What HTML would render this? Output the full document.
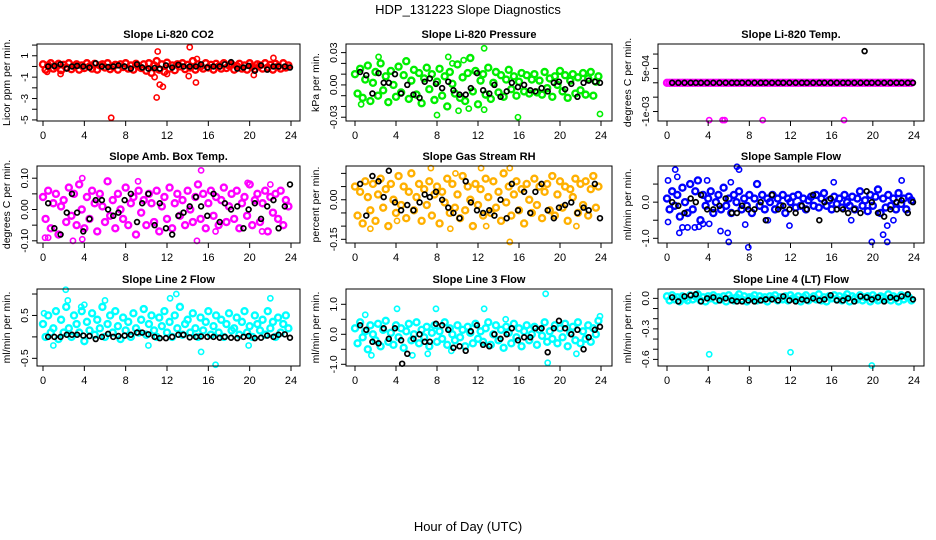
<!DOCTYPE html>
<html><head><meta charset="utf-8">
<style>
html,body{margin:0;padding:0;background:#fff;}
svg{display:block;font-family:"Liberation Sans",Arial,sans-serif;}
</style></head>
<body>
<svg id="chart" width="936" height="540" viewBox="0 0 936 540">
<text x="468" y="14" text-anchor="middle" font-size="13">HDP_131223  Slope Diagnostics</text>
<text x="468" y="531" text-anchor="middle" font-size="13">Hour of Day (UTC)</text>
</svg>
<script>
// ---------- shared time arrays ----------
const times = [0,0.25,0.5,0.75,1,1.25,1.5,1.75,2,2.25,2.5,2.75,3,3.25,3.5,3.75,4,4.25,4.5,4.75,5,5.25,5.5,5.75,6,6.25,6.5,6.75,7,7.25,7.5,7.75,8,8.25,8.5,8.75,9,9.25,9.5,9.75,10,10.25,10.5,10.75,11,11.25,11.5,11.75,12,12.25,12.5,12.75,13,13.25,13.5,13.75,14,14.25,14.5,14.75,15,15.25,15.5,15.75,16,16.25,16.5,16.75,17,17.25,17.5,17.75,18,18.25,18.5,18.75,19,19.25,19.5,19.75,20,20.25,20.5,20.75,21,21.25,21.5,21.75,22,22.25,22.5,22.75,23,23.25,23.5,23.75];
const blackTimes = [0.5,1.1,1.7,2.3,2.8,3.3,3.9,4.5,5.1,5.7,6.3,6.8,7.3,7.9,8.5,9.1,9.6,10.2,10.8,11.3,11.9,12.5,13.1,13.6,14.2,14.8,15.3,15.9,16.5,17.1,17.6,18.2,18.8,19.4,19.9,20.5,21.1,21.7,22.3,22.8,23.4,23.9];
const xTicks = [0,4,8,12,16,20,24];

// ---------- panel 1: CO2 ----------
const co2Vals = [0.2,-0.3,0.1,0.3,-0.2,0.0,0.25,-0.35,0.15,-0.1,0.3,-0.25,0.05,0.2,-0.3,0.1,-0.15,0.3,0.0,-0.2,0.25,-0.3,0.1,0.2,-0.1,0.3,-0.25,0.0,0.15,-0.3,0.2,-0.05,0.3,-0.2,0.1,-0.3,0.25,0.0,-0.15,0.2,-0.4,0.3,-0.6,0.1,0.5,-0.3,0.2,-0.5,0.35,-0.2,0.1,-0.35,0.2,0.0,0.3,-0.25,0.15,-0.1,0.5,-0.3,0.2,0.0,-0.2,0.3,-0.1,0.15,-0.3,0.25,0.0,-0.2,0.3,-0.15,0.1,0.2,-0.3,0.05,0.25,-0.2,0.1,-0.3,0.3,0.0,-0.25,0.2,0.1,-0.2,0.3,-0.1,0.15,-0.3,0.25,0.0,-0.2,0.3,-0.1,0.1];
const co2OutT = [6.6,10.8,11.0,11.1,11.3,11.6,12.0,14.2,14.1,14.8,14.9,22.3,20.4,1.7,0.4];
const co2OutV = [-4.8,-1.0,-2.9,1.4,-1.7,-1.9,-0.7,1.8,-0.9,-1.5,0.7,0.8,-0.8,-0.7,-0.5];
const co2Black = [0,0.05,0.2,-0.2,0,0.05,0,-0.1,0.3,0,-0.05,0,0.1,0,-0.2,0.2,-0.1,-0.2,-0.15,-0.2,0.1,-0.1,0.15,0,0,0,0.2,-0.1,0,0,0.2,0.4,-0.2,-0.1,0.05,-0.4,0.1,-0.3,0,0,0,-0.1];

// ---------- panel 2: Pressure ----------
const presVals = [0.010,-0.008,0.015,-0.012,0.005,0.018,-0.015,0.002,0.012,-0.010,0.020,-0.005,0.008,-0.016,0.013,0.000,-0.011,0.017,-0.007,0.009,0.022,-0.013,0.004,0.014,-0.009,0.011,-0.017,0.006,0.016,-0.004,0.010,-0.014,0.003,0.015,-0.010,0.008,-0.020,0.012,0.001,-0.008,0.019,-0.012,0.007,-0.015,0.011,0.025,-0.006,0.013,-0.018,0.004,0.010,-0.009,0.016,-0.013,0.002,0.012,-0.007,0.009,-0.011,0.005,0.014,-0.004,0.008,-0.010,0.003,0.011,-0.006,0.009,-0.008,0.005,0.010,-0.007,0.004,-0.009,0.012,-0.003,0.006,-0.011,0.008,0.000,0.013,-0.006,0.009,-0.012,0.004,0.010,-0.008,0.007,-0.005,0.011,-0.009,0.006,0.012,-0.010,0.003,0.008];
const presOutT = [0.6,2.3,8.0,9.1,10.1,10.6,12.6,12.6,15.9,23.9,9.5,11.1];
const presOutV = [-0.018,0.026,-0.028,0.026,-0.024,0.023,0.034,-0.023,-0.030,-0.027,0.020,-0.022];
const presBlack = [0.012,0.009,-0.008,0.011,0.002,0.002,0.010,-0.008,0.000,-0.009,-0.012,0.003,0.006,0.001,-0.003,0.003,-0.005,-0.009,-0.009,-0.003,0.011,-0.005,-0.008,0.000,-0.011,-0.006,0.002,-0.002,0.000,-0.005,-0.006,-0.003,-0.006,0.002,0.003,-0.004,0.001,-0.011,0.002,0.004,0.003,0.002];

// ---------- panel 3: Li-820 Temp ----------
const tempVals = [0,0,0,0,0,0,0,0,0,0,0,0,0,0,0,0,0,0,0,0,0,0,0,0,0,0,0,0,0,0,0,0,0,0,0,0,0,0,0,0,0,0,0,0,0,0,0,0,0,0,0,0,0,0,0,0,0,0,0,0,0,0,0,0,0,0,0,0,0,0,0,0,0,0,0,0,0,0,0,0,0,0,0,0,0,0,0,0,0,0,0,0,0,0,0,0];
const tempOutT = [4.1,5.4,5.6,9.3,17.2];
const tempOutV = [-0.0013,-0.0013,-0.0013,-0.0013,-0.0013];
const tempBlack = [0,0,0,0,0,0,0,0,0,0,0,0,0,0,0,0,0,0,0,0,0,0,0,0,0,0,0,0,0,0,0,0,0,0,0,0,0,0,0,0,0,0];
const tempBlackOutT = [19.2];
const tempBlackOutV = [0.0011];

// ---------- panel 4: Amb. Box Temp ----------
const ambVals = [0.04,-0.03,0.06,-0.06,0.02,0.05,-0.08,0.01,0.03,-0.04,0.07,-0.02,0.05,-0.05,0.08,0.00,-0.06,0.04,-0.03,0.06,0.02,-0.07,0.05,0.01,-0.04,0.09,-0.02,0.03,-0.06,0.05,0.00,-0.03,0.07,-0.05,0.02,0.04,-0.08,0.06,-0.01,0.03,-0.05,0.05,0.02,-0.04,0.06,-0.07,0.01,0.04,-0.03,0.07,-0.06,0.02,0.05,-0.02,0.03,-0.05,0.06,0.00,-0.04,0.04,0.08,-0.03,0.05,-0.06,0.02,0.06,-0.02,0.04,-0.05,0.03,0.07,-0.04,0.01,0.05,-0.03,0.06,-0.06,0.02,0.04,-0.02,0.08,-0.05,0.03,0.05,-0.04,0.02,0.06,-0.07,0.04,-0.01,0.05,-0.03,0.06,-0.05,0.03,0.01];
const ambOutT = [0.2,0.5,2.9,3.8,3.8,9.2,15.3,14.9,16.7,19.8,21.2,22.0];
const ambOutV = [-0.09,-0.09,-0.1,-0.095,0.1,0.09,0.125,-0.1,-0.07,0.085,-0.07,0.08];
const ambBlack = [0.02,-0.06,-0.08,-0.01,0.05,-0.01,-0.07,-0.03,0.03,0.03,0.00,-0.02,-0.01,0.03,0.05,-0.04,0.02,0.05,-0.05,0.02,-0.06,-0.08,-0.02,-0.01,0.01,0.04,0.01,-0.02,0.05,-0.04,0.02,0.00,0.01,-0.06,0.00,0.02,-0.03,0.01,0.03,-0.06,0.01,0.08];

// ---------- panel 5: Gas Stream RH ----------
const rhVals = [0.05,-0.06,0.03,-0.09,0.07,0.01,-0.04,0.06,-0.08,0.02,0.08,-0.03,0.04,-0.10,0.06,0.00,-0.05,0.09,-0.02,0.05,-0.07,0.03,0.10,-0.04,0.01,0.06,-0.08,0.04,-0.02,0.07,-0.06,0.02,0.05,-0.09,0.03,-0.01,0.08,-0.05,0.06,-0.03,0.02,-0.07,0.09,-0.04,0.05,0.00,-0.10,0.06,-0.02,0.04,-0.06,0.08,0.01,-0.05,0.07,-0.03,0.03,-0.08,0.10,-0.01,0.05,-0.06,0.02,0.07,-0.04,0.04,-0.09,0.06,0.00,-0.05,0.08,-0.02,0.05,-0.07,0.03,0.06,-0.04,0.09,-0.06,0.02,0.07,-0.03,0.05,-0.08,0.04,0.01,0.08,-0.05,0.06,-0.02,0.07,-0.06,0.04,0.09,-0.03,0.05];
const rhOutT = [1.5,4.1,7.4,9.3,12.3,15.1,15.1,12.8,21.6,9.8];
const rhOutV = [-0.11,-0.08,0.12,-0.11,0.12,0.12,-0.16,-0.1,-0.1,0.1];
const rhBlack = [0.06,-0.06,0.09,0.07,0.01,0.11,-0.01,-0.04,-0.02,-0.04,-0.01,0.02,0.01,0.03,0.00,-0.03,-0.05,-0.07,0.07,-0.01,-0.04,-0.05,-0.04,-0.06,0.00,-0.07,0.06,-0.04,0.03,-0.05,0.03,0.06,-0.04,-0.07,-0.03,-0.02,-0.01,-0.05,-0.03,-0.04,0.06,-0.07];

// ---------- panel 6: Sample Flow ----------
const sfVals = [0.1,-0.2,0.3,-0.1,0.2,-0.4,0.4,0.0,-0.3,0.5,-0.2,0.3,0.6,-0.5,0.2,-0.1,0.1,0.3,-0.3,0.0,0.2,-0.2,0.4,-0.1,0.1,-0.3,0.2,0.0,0.3,-0.2,0.1,-0.1,0.2,-0.3,0.1,0.5,-0.1,0.2,-0.2,0.1,0.0,0.2,-0.2,0.1,-0.1,0.2,-0.3,0.1,0.0,0.15,-0.15,0.2,-0.1,0.1,-0.2,0.05,0.15,-0.1,0.2,-0.15,0.1,0.25,-0.1,0.05,-0.2,0.15,-0.05,0.1,-0.15,0.2,0.0,-0.1,0.15,-0.2,0.1,0.3,-0.1,0.05,-0.25,0.2,-0.1,0.15,0.35,-0.3,0.1,-0.15,0.2,-0.1,0.1,-0.2,0.25,-0.05,0.1,-0.2,0.15,0.05];
const sfOutT = [0.1,0.1,0.8,1.0,1.2,1.5,2.0,2.7,3.1,3.5,3.9,4.1,5.2,5.9,6.0,6.2,6.8,7.0,7.9,7.6,9.8,11.9,16.2,17.9,19.9,21.0,21.4,21.4,22.8,22.0];
const sfOutV = [0.6,-0.55,0.9,0.7,-0.85,-0.7,-0.7,-0.7,-0.68,-0.6,0.6,-0.6,-0.8,-0.85,-1.1,0.55,0.98,0.9,-1.25,-0.62,-0.5,-0.65,0.55,-0.5,-1.1,-0.9,-1.1,-0.65,0.6,-0.5];
const sfBlack = [0.0,-0.1,-0.3,0.1,0.0,0.2,-0.2,-0.2,-0.1,0.1,-0.3,-0.3,-0.1,-0.2,-0.2,0.0,-0.5,0.2,-0.2,-0.1,-0.2,-0.3,-0.1,-0.2,0.2,-0.5,0.0,0.1,-0.2,-0.2,-0.3,-0.2,-0.3,0.3,0.0,-0.3,-0.4,-0.2,0.0,0.05,-0.3,0.0];

// ---------- panel 7: Line 2 Flow ----------
const l2Vals = [0.3,0.0,0.5,0.1,0.2,0.6,-0.05,0.4,0.1,0.7,0.2,0.0,0.5,0.3,0.1,0.6,-0.1,0.35,0.15,0.55,0.05,0.4,0.2,0.7,0.0,0.3,0.5,0.1,0.6,0.25,-0.05,0.45,0.15,0.35,0.0,0.55,0.2,0.1,0.4,0.65,0.05,0.3,0.5,0.15,0.0,0.45,0.25,0.6,0.1,0.35,0.0,0.5,0.2,0.7,0.05,0.3,0.4,0.1,0.55,0.2,0.0,0.45,0.15,0.35,0.6,0.05,0.25,0.5,0.1,0.4,0.0,0.3,0.55,0.15,0.2,0.45,0.05,0.35,0.6,0.1,0.25,0.0,0.5,0.3,0.15,0.4,0.05,0.6,0.2,0.35,0.0,0.45,0.1,0.3,0.5,0.2];
const l2OutT = [2.2,2.4,6.0,12.9,12.3,10.2,15.3,16.7,19.9,22.0,0.1,1.0,3.7,4.0];
const l2OutV = [1.1,0.85,0.85,1.0,0.9,-0.2,-0.35,-0.65,-0.2,0.9,0.55,-0.2,0.7,0.75];
const l2Black = [0.0,0.0,0.0,0.05,0.05,0.05,0.03,0.02,-0.05,0.0,0.07,0.0,0.02,0.03,0.05,0.1,0.1,0.06,0.0,-0.03,-0.03,0.0,0.05,0.05,-0.01,0.0,0.01,0.0,0.0,-0.02,0.0,-0.02,-0.03,0.0,0.02,-0.03,-0.02,0.03,0.0,0.05,0.06,-0.02];

// ---------- panel 8: Line 3 Flow ----------
const l3Vals = [0.2,-0.3,0.4,-0.1,0.1,-0.5,0.3,0.0,-0.2,0.35,-0.4,0.15,0.45,-0.25,0.05,-0.35,0.3,-0.1,0.2,-0.45,0.1,0.35,-0.2,0.0,0.4,-0.3,0.15,-0.1,0.25,-0.4,0.05,0.3,-0.25,0.1,-0.15,0.4,-0.35,0.2,0.0,-0.2,0.3,-0.1,0.15,-0.4,0.25,0.05,-0.3,0.35,-0.15,0.1,-0.25,0.2,0.4,-0.35,0.0,0.3,-0.2,0.15,-0.45,0.25,0.05,-0.3,0.35,-0.1,0.2,-0.4,0.1,0.3,-0.2,0.0,0.25,-0.35,0.15,-0.05,0.4,-0.25,0.1,-0.15,0.3,-0.3,0.2,-0.1,0.35,-0.4,0.05,0.25,-0.2,0.4,-0.3,0.1,-0.15,0.3,-0.25,0.2,0.0,0.45];
const l3OutT = [4.1,7.9,12.6,18.6,18.8,1.6,1.0,5.6,7.1,9.4,21.6,23.9,14.7];
const l3OutV = [0.85,0.85,0.85,1.35,-0.95,-0.7,0.65,-0.7,-0.65,-0.55,-0.65,0.6,0.5];
const l3Black = [0.3,0.15,-0.25,-0.3,0.2,-0.15,0.2,-0.2,-0.65,-0.15,0.0,-0.25,-0.25,0.35,0.3,0.15,-0.45,-0.4,-0.55,0.1,0.3,-0.35,-0.4,0.0,-0.15,0.0,0.2,-0.2,-0.1,-0.1,0.2,0.2,-0.6,0.2,0.45,0.2,0.0,0.15,-0.5,-0.1,0.15,0.25];
const l3BlackOutT = [4.6];
const l3BlackOutV = [-0.98];

// ---------- panel 9: Line 4 (LT) Flow ----------
const l4Vals = [0.02,-0.02,0.03,-0.01,0.01,-0.03,0.02,0.0,-0.02,0.03,-0.01,0.02,0.04,-0.02,0.01,-0.03,0.02,0.0,0.03,-0.02,0.01,-0.01,0.02,-0.03,0.03,0.0,-0.02,0.01,0.04,-0.01,0.02,-0.03,0.01,0.0,0.03,-0.02,0.02,-0.01,0.01,-0.03,0.02,0.0,0.03,-0.02,0.01,-0.01,0.02,-0.02,0.03,0.0,-0.01,0.02,-0.03,0.01,0.03,-0.02,0.0,0.02,-0.01,0.04,-0.02,0.01,-0.03,0.02,0.0,0.03,-0.01,0.02,-0.02,0.01,0.04,-0.03,0.02,0.0,-0.01,0.03,-0.02,0.01,0.02,-0.03,0.03,0.0,-0.02,0.02,0.01,-0.01,0.04,-0.02,0.02,0.0,-0.03,0.03,-0.01,0.02,0.01,-0.02];
const l4OutT = [4.1,12.0,19.9];
const l4OutV = [-0.55,-0.53,-0.66];
const l4Black = [0.01,-0.03,0.02,0.03,0.04,-0.03,0.0,0.01,-0.02,0.0,-0.02,-0.03,-0.03,-0.02,-0.03,-0.02,-0.01,-0.01,-0.02,0.02,-0.02,-0.03,-0.01,-0.02,0.0,-0.02,-0.01,0.03,-0.02,-0.02,0.0,-0.03,0.02,0.01,-0.01,0.01,-0.03,0.01,0.0,0.02,0.04,-0.01];

// ---------- tick arrays ----------
const co2Ticks=[2,1,0,-1,-2,-3,-4,-5], co2Labels=[1,-1,-3,-5];
const presTicks=[0.03,0.02,0.01,0,-0.01,-0.02,-0.03], presLabels=[0.03,0,-0.03];
const tempTicks=[0.001,0.0005,0,-0.0005,-0.001], tempLabels=[0.0005,-0.001];
const ambTicks=[0.1,0.05,0,-0.05,-0.1], ambLabels=[0.1,0,-0.1];
const rhTicks=[0.1,0.05,0,-0.05,-0.1,-0.15], rhLabels=[0,-0.15];
const sfTicks=[0.5,0,-0.5,-1], sfLabels=[0,-1];
const l2Ticks=[1,0.5,0,-0.5], l2Labels=[0.5,-0.5];
const l3Ticks=[1,0.5,0,-0.5,-1], l3Labels=[1,0,-1];
const l4Ticks=[0,-0.1,-0.2,-0.3,-0.4,-0.5,-0.6], l4Labels=[0,-0.3,-0.6];

const fmt = {
  co2: v=>String(v), pres: v=>v.toFixed(2), temp: v=>(v===0.0005?'5e-04':'-1e-03'),
  amb: v=>v.toFixed(2), rh: v=>v.toFixed(2), sf: v=>v.toFixed(1), l2: v=>v.toFixed(1), l3: v=>v.toFixed(1), l4: v=>v.toFixed(1)
};

const cols=[{l:37,r:300,x0:43,x24:291,lab:28,tit:10},{l:346,r:612,x0:355,x24:601,lab:337,tit:319},{l:658,r:924,x0:667,x24:914,lab:649,tit:631}];
const rows=[{t:44,b:121},{t:166,b:243},{t:289,b:366}];

const panels=[
 {key:'co2',name:'co2',title:'Slope Li-820 CO2',ylab:'Licor ppm per min.',col:0,row:0,ylim:[-5.1,2.1],color:'#ff0000',vals:co2Vals,oT:co2OutT,oV:co2OutV,blk:co2Black,ticks:co2Ticks,labels:co2Labels},
 {key:'pres',name:'pressure',title:'Slope Li-820 Pressure',ylab:'kPa per min.',col:1,row:0,ylim:[-0.0335,0.038],color:'#00ee00',vals:presVals,oT:presOutT,oV:presOutV,blk:presBlack,ticks:presTicks,labels:presLabels},
 {key:'temp',name:'li820-temp',title:'Slope Li-820 Temp.',ylab:'degrees C per min.',col:2,row:0,ylim:[-0.00133,0.00135],color:'#ff00ff',vals:tempVals,oT:tempOutT,oV:tempOutV,blk:tempBlack,bT:tempBlackOutT,bV:tempBlackOutV,ticks:tempTicks,labels:tempLabels},
 {key:'amb',name:'amb-box-temp',title:'Slope Amb. Box Temp.',ylab:'degrees C per min.',col:0,row:1,ylim:[-0.107,0.139],color:'#ff00ff',vals:ambVals,oT:ambOutT,oV:ambOutV,blk:ambBlack,ticks:ambTicks,labels:ambLabels},
 {key:'rh',name:'gas-stream-rh',title:'Slope Gas Stream RH',ylab:'percent per min.',col:1,row:1,ylim:[-0.164,0.128],color:'#ffb000',vals:rhVals,oT:rhOutT,oV:rhOutV,blk:rhBlack,ticks:rhTicks,labels:rhLabels},
 {key:'sf',name:'sample-flow',title:'Slope Sample Flow',ylab:'ml/min per min.',col:2,row:1,ylim:[-1.13,1.0],color:'#0000ff',vals:sfVals,oT:sfOutT,oV:sfOutV,blk:sfBlack,ticks:sfTicks,labels:sfLabels},
 {key:'l2',name:'line2-flow',title:'Slope Line 2 Flow',ylab:'ml/min per min.',col:0,row:2,ylim:[-0.679,1.117],color:'#00ffff',vals:l2Vals,oT:l2OutT,oV:l2OutV,blk:l2Black,ticks:l2Ticks,labels:l2Labels},
 {key:'l3',name:'line3-flow',title:'Slope Line 3 Flow',ylab:'ml/min per min.',col:1,row:2,ylim:[-1.057,1.51],color:'#00ffff',vals:l3Vals,oT:l3OutT,oV:l3OutV,blk:l3Black,bT:l3BlackOutT,bV:l3BlackOutV,ticks:l3Ticks,labels:l3Labels},
 {key:'l4',name:'line4-flow',title:'Slope Line 4 (LT) Flow',ylab:'ml/min per min.',col:2,row:2,ylim:[-0.665,0.092],color:'#00ffff',vals:l4Vals,oT:l4OutT,oV:l4OutV,blk:l4Black,ticks:l4Ticks,labels:l4Labels}
];

const NS='http://www.w3.org/2000/svg';
const svg=document.getElementById('chart');
function mk(tag,attrs,parent){const e=document.createElementNS(NS,tag);for(const k in attrs)e.setAttribute(k,attrs[k]);(parent||svg).appendChild(e);return e;}

panels.forEach(p=>{
  const c=cols[p.col], r=rows[p.row];
  const xs=h=>c.x0+(h/24)*(c.x24-c.x0);
  const ys=v=>r.b-(v-p.ylim[0])/(p.ylim[1]-p.ylim[0])*(r.b-r.t);
  const g=mk('g',{});
  
  
  const tt=mk('text',{x:(c.l+c.r)/2,y:r.t-6,'text-anchor':'middle','font-size':11,'font-weight':'bold'},g);
  tt.textContent=p.title;
  
  
  const yl=mk('text',{x:0,y:0,'text-anchor':'middle','font-size':10.5,transform:`translate(${c.tit},${(r.t+r.b)/2}) rotate(-90)`},g);
  yl.textContent=p.ylab;
  
  
  const pts=mk('g',{fill:'none'},g);
  
  
  p.vals.forEach((v,i)=>{ if(i>=times.length)return;
    const m=mk('circle',{cx:xs(times[i]),cy:ys(v),r:3,stroke:p.color,'stroke-width':2.4},pts);
    
    
  });
  p.oT.forEach((t,i)=>{
    const m=mk('circle',{cx:xs(t),cy:ys(p.oV[i]),r:2.6,stroke:p.color,'stroke-width':1.6},pts);
    
    
  });
  p.blk.forEach((v,i)=>{ if(i>=blackTimes.length)return;
    const m=mk('circle',{cx:xs(blackTimes[i]),cy:ys(v),r:2.4,stroke:'#000','stroke-width':1.7},pts);
    
    
  });
  if(p.bT){p.bT.forEach((t,i)=>{
    const m=mk('circle',{cx:xs(t),cy:ys(p.bV[i]),r:2.4,stroke:'#000','stroke-width':1.7},pts);
    
    
  });}
  const box=mk('rect',{x:c.l,y:r.t,width:c.r-c.l,height:r.b-r.t,fill:'none',stroke:'#000','stroke-width':1},g);
  
  
  xTicks.forEach(h=>{
    const x=xs(h);
    const tk=mk('line',{x1:x,x2:x,y1:r.b,y2:r.b+5,stroke:'#000'},g);
    
    
    const tl=mk('text',{x:x,y:r.b+18,'text-anchor':'middle','font-size':11},g);
    tl.textContent=String(h);
    
    
  });
  p.ticks.forEach(v=>{
    const y=ys(v);
    const tk=mk('line',{x1:c.l-5,x2:c.l,y1:y,y2:y,stroke:'#000'},g);
    
    
  });
  p.labels.forEach(v=>{
    const y=ys(v);
    const tl=mk('text',{x:0,y:0,'text-anchor':'middle','font-size':10.5,transform:`translate(${c.lab},${y}) rotate(-90)`},g);
    tl.textContent=fmt[p.key](v);
    
    
  });
});
</script>
</body></html>
